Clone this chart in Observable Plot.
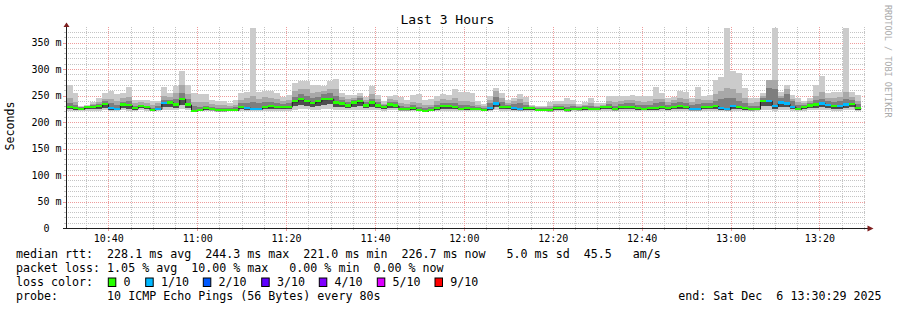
<!DOCTYPE html>
<html><head><meta charset="utf-8">
<script src="https://cdn.jsdelivr.net/npm/d3@7"></script>
<script src="https://cdn.jsdelivr.net/npm/@observablehq/plot@0.6"></script>
<style>
html,body{margin:0;padding:0;background:#fff;}
#wrap{position:relative;width:897px;height:310px;overflow:hidden;background:#fff;}
#overlay{position:absolute;left:0;top:0;}
#chart{position:absolute;left:0;top:20px;}
</style></head>
<body><div id="wrap"><svg id="overlay" width="897" height="310"></svg><div id="chart"></div></div>
<script>
// ---------- data ----------
const median = [
229,226,225,228,229,230,234,226,225,233,
232,226,230,228,223,225,236,237,233,244,
233,221,223,226,224,222,222,223,223,228,
227,225,225,229,230,229,228,229,239,243,
240,236,239,243,244,237,235,231,237,239,
231,237,231,228,233,231,224,224,226,223,
221,223,226,230,230,228,225,226,225,225,
223,226,235,229,228,226,224,226,226,223,
223,222,226,226,222,225,224,226,225,225,
228,228,224,228,229,229,226,225,226,226,
229,226,229,230,229,224,224,228,229,230,
226,224,230,228,226,224,225,240,240,230,
237,235,229,225,228,231,233,235,232,230,
230,233,234,226];
const lossCount = [
0,0,0,0,0,0,0,1,1,0,
0,0,0,0,0,1,1,0,0,0,
0,0,0,0,0,0,0,0,0,0,
1,1,1,0,0,0,0,0,0,0,
0,0,0,0,0,0,0,0,0,0,
0,0,0,0,0,0,0,0,0,0,
0,0,0,0,0,0,0,0,0,0,
0,1,1,0,0,1,1,0,0,0,
0,0,0,0,0,0,0,0,0,0,
0,0,0,0,0,0,0,0,0,0,
0,0,0,0,0,1,1,0,0,0,
1,1,1,0,0,0,0,0,1,1,
1,1,1,0,0,0,0,1,1,0,
1,1,0,0];
const pingMax = [
270,255,231,233,238,245,255,259,253,255,
266,242,241,241,239,239,266,255,268,296,
270,255,253,253,242,239,239,236,241,255,
257,378,257,259,259,255,247,251,273,277,
277,270,270,268,278,282,255,251,251,255,
247,268,251,239,250,251,248,242,251,253,
242,243,250,253,251,263,257,257,255,239,
234,250,264,255,242,246,253,248,233,230,
230,238,240,240,246,241,234,238,246,236,
236,249,249,249,249,251,250,250,250,266,
255,246,248,259,257,246,266,250,251,279,
285,378,296,292,264,246,246,255,279,378,
257,270,251,245,240,246,270,287,255,257,
257,378,257,251];
const pingHi2 = [
245,238,229,231,234,238,244,244,240,246,
248,236,237,235,232,236,250,248,254,270,
252,238,237,238,234,232,232,230,233,242,
245,250,243,248,246,244,240,242,258,262,
262,255,256,258,262,262,248,244,246,250,
241,252,243,234,243,242,236,234,238,236,
232,233,239,243,242,245,240,240,238,233,
230,242,258,246,236,240,244,238,231,228,
228,231,234,234,234,234,230,233,236,231,
233,240,237,240,241,242,240,238,240,244,
244,238,241,246,244,238,244,241,242,252,
258,265,262,255,245,236,237,250,280,280,
250,262,244,238,236,240,250,256,246,245,
248,256,248,240];
const pingHi3 = [
236,232,228,230,232,234,239,236,232,238,
240,231,233,231,227,230,242,242,244,255,
244,230,229,231,229,227,227,227,228,235,
236,238,235,238,238,236,234,235,248,252,
250,246,248,252,254,250,242,238,242,245,
237,244,237,232,238,237,230,229,232,229,
227,228,232,236,236,236,232,232,231,229,
227,235,248,238,232,234,236,232,229,226,
226,227,230,230,228,230,228,230,230,229,
231,234,231,234,235,236,233,232,233,235,
237,232,236,238,236,232,234,235,236,240,
244,246,246,240,236,231,231,246,264,262,
246,252,240,232,233,236,242,244,240,238,
240,244,242,234];
const pingLo = [
224,222,222,224,225,225,226,222,222,226,
225,223,226,224,221,222,228,228,226,232,
226,220,221,223,222,221,221,221,221,224,
223,222,222,225,225,225,224,225,230,233,
231,229,230,233,234,229,228,226,229,230,
226,229,226,224,226,226,222,222,223,221,
220,221,223,225,225,224,222,223,222,222,
221,223,228,225,224,223,222,223,223,221,
221,221,223,223,221,222,222,223,222,222,
224,224,222,224,225,225,223,222,223,223,
225,223,225,225,225,222,222,224,225,225,
223,222,225,224,223,222,222,231,231,225,
229,228,225,222,224,226,227,228,226,225,
225,227,228,223];
const pingMin = [
221,220,220,221,221,221,222,220,220,222,
221,221,222,221,220,220,223,223,222,225,
222,219,220,221,220,220,220,220,220,221,
221,220,220,221,221,221,221,221,223,224,
224,223,223,224,225,223,222,222,223,223,
222,223,222,221,222,222,220,220,221,220,
219,220,221,221,221,221,220,220,220,220,
220,221,222,221,221,221,220,221,221,220,
220,220,221,221,220,220,220,221,220,220,
221,221,220,221,221,221,221,220,221,221,
221,221,221,221,221,220,220,221,221,221,
221,220,221,221,221,220,220,223,223,221,
222,222,221,220,221,222,222,222,222,221,
221,222,222,221];

const lossLevels = [0, 1, 2, 3, 4, 5, 9];
const lossLabels = ["0", "1/10", "2/10", "3/10", "4/10", "5/10", "9/10"];
const lossColors = ["#26ff00", "#00b8ff", "#0059ff", "#5e00ff", "#7e00ff", "#dd00ff", "#ff0000"];
const yTickValues = [0, 50, 100, 150, 200, 250, 300, 350];
const xTickLabels = ["10:40", "11:00", "11:20", "11:40", "12:00", "12:20", "12:40", "13:00", "13:20"];

const titleText = "Last 3 Hours";
const yLabelText = "Seconds";
const watermarkText = "RRDTOOL / TOBI OETIKER";
const legendMedian = "median rtt:  228.1 ms avg  244.3 ms max  221.0 ms min  226.7 ms now   5.0 ms sd  45.5   am/s";
const legendLoss = "packet loss: 1.05 % avg  10.00 % max   0.00 % min  0.00 % now";
const legendLossTitle = "loss color:";
const legendProbe = "probe:       10 ICMP Echo Pings (56 Bytes) every 80s";
const legendEnd = "end: Sat Dec  6 13:30:29 2025";

// time frame
const T0 = Date.UTC(2025, 11, 6, 10, 30, 29);
const T1 = Date.UTC(2025, 11, 6, 13, 30, 29);
const FIRST = Date.UTC(2025, 11, 6, 10, 30, 37);
const STEP = 80000;

// ---------- build ----------
const rows = median.map((m, i) => ({
  t0: new Date(FIRST + i * STEP), t1: new Date(FIRST + (i + 1) * STEP),
  med: m, loss: lossCount[i], max: pingMax[i], hi2: pingHi2[i], hi3: pingHi3[i], lo: pingLo[i], min: pingMin[i]
}));
const medPts = rows.map(r => ({t: r.t0, m: r.med})).concat([{t: rows[rows.length - 1].t1, m: rows[rows.length - 1].med}]);

const xMajor = xTickLabels.map(l => new Date(`2025-12-06T${l}:00Z`));
const xMinor = d3.utcMinute.every(5).range(new Date(T0), new Date(T1)).filter(d => d.getUTCMinutes() % 20 !== 0);
const yMajor = yTickValues.filter(v => v > 0);
const yMinor = d3.range(10, 380, 10).filter(v => v % 50 !== 0);

const GRID = "#c4c4c4", MGRID = "#ee9c9c", AXIS = "#1f1f1f", ARROW = "#7f1f1f";
const SMOKE = ["#cbcbcb", "#a8a8a8", "#7e7e7e", "#4e4e4e"];
const crisp = {shapeRendering: "crispEdges"};

const arrowUp = {draw(ctx) { ctx.moveTo(0, -4.6); ctx.lineTo(3, 0); ctx.lineTo(-3, 0); ctx.closePath(); }};
const arrowRight = {draw(ctx) { ctx.moveTo(6, 0); ctx.lineTo(0, -3); ctx.lineTo(0, 3); ctx.closePath(); }};

const chart = Plot.plot({
  width: 897, height: 228,
  marginLeft: 66, marginRight: 31, marginTop: 6.6, marginBottom: 20,
  x: {type: "utc", domain: [new Date(T0), new Date(T1)]},
  y: {domain: [0, 380]},
  style: {background: "transparent", fontFamily: "'DejaVu Sans Mono', monospace", fontSize: "10px", color: "#000", overflow: "visible"},
  marks: [
    Plot.ruleY(yMinor, {stroke: GRID, strokeDasharray: "1,1", ...crisp}),
    Plot.ruleX(xMinor, {stroke: GRID, strokeDasharray: "1,1", ...crisp}),
    Plot.ruleY(yMajor, {stroke: MGRID, strokeDasharray: "1,1", ...crisp}),
    Plot.ruleX(xMajor, {stroke: MGRID, strokeDasharray: "1,1", ...crisp}),
    // tick marks outside the plot
    Plot.ruleX(xMinor, {y1: 0, y2: -3.8, stroke: GRID, ...crisp}),
    Plot.ruleX(xMajor, {y1: 0, y2: -5.7, stroke: MGRID, ...crisp}),
    Plot.ruleY(yMinor, {x1: () => new Date(T0 - 27000), x2: () => new Date(T0), stroke: GRID, ...crisp}),
    Plot.ruleY(yMajor, {x1: () => new Date(T0 - 40500), x2: () => new Date(T0), stroke: MGRID, ...crisp}),
    // smoke
    Plot.rect(rows, {x1: "t0", x2: "t1", y1: "min", y2: "max", fill: SMOKE[0], ...crisp}),
    Plot.rect(rows, {x1: "t0", x2: "t1", y1: "lo", y2: "hi2", fill: SMOKE[1], ...crisp}),
    Plot.rect(rows, {x1: "t0", x2: "t1", y1: "lo", y2: "hi3", fill: SMOKE[2], ...crisp}),
    Plot.rect(rows, {x1: "t0", x2: "t1", y1: "lo", y2: "med", fill: SMOKE[3], ...crisp}),
    // median
    Plot.line(medPts, {x: "t", y: "m", curve: "step-after", stroke: "#1e1e1e", strokeWidth: 1}),
    ...lossLevels.map((lv, j) => Plot.rect(rows.filter(r => r.loss === lv),
      {x1: "t0", x2: "t1", y1: r => r.med - 2.1, y2: r => r.med + 2.1, fill: lossColors[j], ...crisp})),
    // axis lines + arrows
    Plot.ruleY([0], {x1: () => new Date(T0 - 40500), x2: () => new Date(T1 + 27000), stroke: AXIS, ...crisp}),
    Plot.ruleX([new Date(T0)], {y1: 0, y2: 386, stroke: AXIS, ...crisp}),
    Plot.dot([{x: new Date(T0), y: 380}], {x: "x", y: "y", symbol: arrowUp, fill: ARROW, stroke: "none"}),
    Plot.dot([{x: new Date(T1 + 13500), y: 0}], {x: "x", y: "y", symbol: arrowRight, fill: ARROW, stroke: "none"}),
    Plot.axisY({ticks: yTickValues, tickFormat: d => d === 0 ? "0\u00a0\u00a0" : d + " m", tickSize: 0, tickPadding: 5, label: null}),
    Plot.axisX({ticks: xMajor, tickFormat: d3.utcFormat("%H:%M"), tickSize: 0, tickPadding: 6, label: null})
  ]
});
document.getElementById("chart").append(chart);

// ---------- title, labels, legend ----------
const ov = d3.select("#overlay")
  .attr("font-family", "'DejaVu Sans Mono', monospace")
  .attr("fill", "#000");
ov.append("text").attr("x", 447.5).attr("y", 24).attr("text-anchor", "middle").attr("font-size", 13).text(titleText);
ov.append("text").attr("transform", "translate(14,126) rotate(-90)").attr("text-anchor", "middle").attr("font-size", 11.65).text(yLabelText);
ov.append("text").attr("transform", "translate(884.5,5) rotate(90)").attr("font-size", 8.5).attr("fill", "#aaaaaa").text(watermarkText);

const legendLine = (txt, y) => ov.append("text").attr("x", 16).attr("y", y).attr("font-size", 11.65)
  .attr("xml:space", "preserve").style("white-space", "pre").text(txt);
legendLine(legendMedian, 258);
legendLine(legendLoss, 272);
legendLine(legendLossTitle, 286);
legendLine(legendProbe, 300);
ov.append("text").attr("x", 881.5).attr("y", 300).attr("text-anchor", "end").attr("font-size", 11.65)
  .attr("xml:space", "preserve").style("white-space", "pre").text(legendEnd);

const boxX = [108.3, 145.7, 203.3, 261.7, 319.3, 377.3, 435];
lossLabels.forEach((lab, j) => {
  ov.append("rect").attr("x", boxX[j]).attr("y", 278).attr("width", 7.5).attr("height", 8.5)
    .attr("fill", lossColors[j]).attr("stroke", "#000").attr("stroke-width", 1);
  ov.append("text").attr("x", boxX[j] + 15.3).attr("y", 286).attr("font-size", 11.65).text(lab);
});
</script>
</body></html>
